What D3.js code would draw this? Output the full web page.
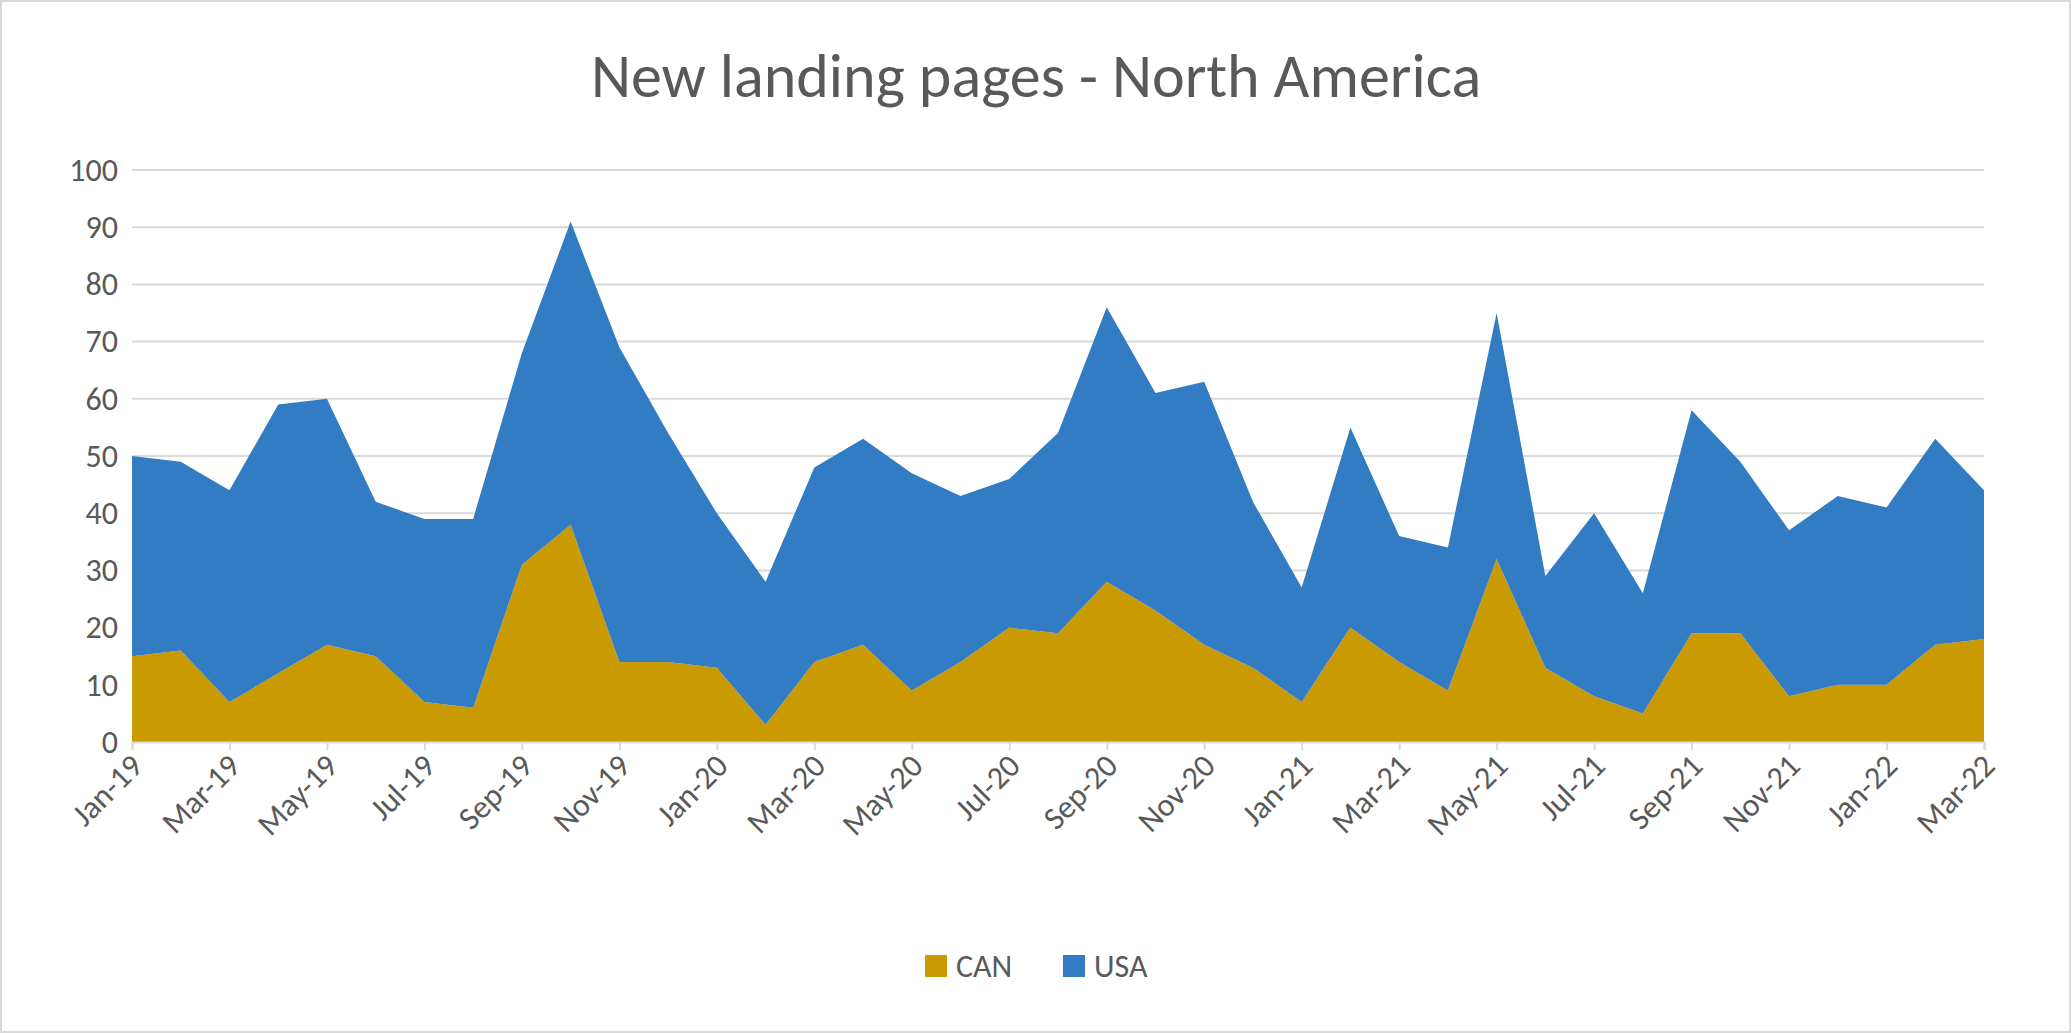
<!DOCTYPE html>
<html><head><meta charset="utf-8">
<script src="https://cdn.jsdelivr.net/npm/d3@7"></script>
<style>body{margin:0;background:#fff;font-family:Calibri,Carlito,"Open Sans",sans-serif}</style>
</head><body><svg id="c" width="2071" height="1033"></svg>
<script>
const months = ["Jan-19","Feb-19","Mar-19","Apr-19","May-19","Jun-19","Jul-19","Aug-19","Sep-19","Oct-19","Nov-19","Dec-19",
"Jan-20","Feb-20","Mar-20","Apr-20","May-20","Jun-20","Jul-20","Aug-20","Sep-20","Oct-20","Nov-20","Dec-20",
"Jan-21","Feb-21","Mar-21","Apr-21","May-21","Jun-21","Jul-21","Aug-21","Sep-21","Oct-21","Nov-21","Dec-21",
"Jan-22","Feb-22","Mar-22"];
const CAN = [15,16,7,12,17,15,7,6,31,38,14,14,13,3,14,17,9,14,20,19,28,23,17,13,7,20,14,9,32,13,8,5,19,19,8,10,10,17,18];
const USA = [35,33,37,47,43,27,32,33,37,53,55,40,27,25,34,36,38,29,26,35,48,38,46,29,20,35,22,25,43,16,32,21,39,30,29,33,31,36,26];
const yTicks = [0,10,20,30,40,50,60,70,80,90,100];
const series = ["CAN","USA"];
const colors = {CAN:"#C99A02", USA:"#317CC3"};

const svg = d3.select("#c");
svg.append("rect").attr("x",1).attr("y",1).attr("width",2069).attr("height",1031).attr("fill","#fff").attr("stroke","#d9d9d9").attr("stroke-width",2);
const L=132,R=1984,T=170,B=742;
const x = d3.scalePoint().domain(months).range([L,R]);
const y = d3.scaleLinear().domain([0,100]).range([B,T]);
svg.append("text").attr("x",1036).attr("y",97).attr("text-anchor","middle").attr("font-size",62).attr("fill","#595959").text("New landing pages - North America");
svg.append("g").selectAll("line").data(yTicks).join("line").attr("x1",L).attr("x2",R).attr("y1",d=>y(d)).attr("y2",d=>y(d)).attr("stroke","#d9d9d9").attr("stroke-width",2);
const data = months.map((m,i)=>({m,CAN:CAN[i],USA:USA[i]}));
const stack = d3.stack().keys(series)(data);
const area = d3.area().x(d=>x(d.data.m)).y0(d=>y(d[0])).y1(d=>y(d[1]));
svg.append("g").selectAll("path").data(stack).join("path").attr("d",area).attr("fill",d=>colors[d.key]);
const ya = svg.append("g").attr("transform",`translate(${L},0)`).call(d3.axisLeft(y).tickValues(yTicks).tickSize(0).tickPadding(14));
ya.select(".domain").remove();
ya.selectAll("text").attr("font-size",32).attr("fill","#595959").attr("font-family","Calibri,Carlito,'Open Sans',sans-serif");
const xa = svg.append("g").attr("transform",`translate(0,${B})`).call(d3.axisBottom(x).tickValues(months.filter((m,i)=>i%2==0)).tickSize(8));
xa.select(".domain").attr("stroke","#d9d9d9").attr("stroke-width",2);
xa.selectAll("line").attr("stroke","#d9d9d9").attr("stroke-width",2);
xa.selectAll("text").attr("font-size",32).attr("fill","#595959").attr("font-family","Calibri,Carlito,'Open Sans',sans-serif")
  .attr("text-anchor","end").attr("dx","-0.3em").attr("dy","0.5em").attr("transform","rotate(-45)");
const lg = svg.append("g").attr("transform","translate(925,966)");
series.forEach((s,i)=>{
  const g=lg.append("g").attr("transform",`translate(${i*138},0)`);
  g.append("rect").attr("x",0).attr("y",-11).attr("width",22).attr("height",22).attr("fill",colors[s]);
  g.append("text").attr("x",31).attr("y",11).attr("font-size",32).attr("fill","#595959").text(s);
});
</script></body></html>
